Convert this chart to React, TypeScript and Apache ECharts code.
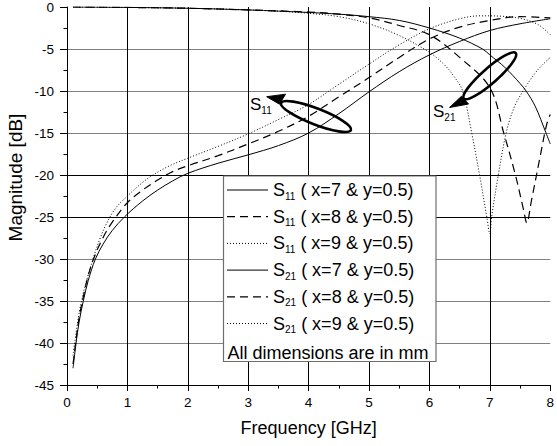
import React, { useEffect, useRef } from "react";
import * as echarts from "echarts";

type Pt = [number, number];

// Frequency [GHz], Magnitude [dB]
const s11x7: Pt[] = [
  [0.1, -43.0], [0.15, -40.0], [0.2, -37.5], [0.27, -35.0], [0.35, -32.6], [0.47, -30.0],
  [0.6, -28.2], [0.75, -26.6], [0.95, -25.0], [1.25, -23.1], [1.5, -21.8], [1.75, -20.7],
  [2.0, -19.8], [2.5, -18.6], [3.0, -17.6], [3.5, -16.5], [4.0, -15.0], [4.5, -12.7],
  [5.0, -10.1], [5.5, -7.7], [6.0, -5.7], [6.5, -4.1], [7.0, -2.8], [7.5, -2.0], [8.0, -1.4],
];
const s11x8: Pt[] = [
  [0.1, -42.5], [0.15, -39.6], [0.2, -37.0], [0.27, -34.5], [0.35, -32.0], [0.45, -29.8],
  [0.6, -27.4], [0.75, -25.6], [1.0, -23.3], [1.25, -21.8], [1.5, -20.6], [1.75, -19.6],
  [2.0, -18.9], [2.5, -17.7], [3.0, -16.3], [3.5, -14.8], [4.0, -13.0], [4.5, -10.7],
  [5.0, -8.4], [5.5, -6.0], [6.0, -3.8], [6.5, -2.4], [7.0, -1.6], [7.5, -1.15], [8.0, -1.3],
];
const s11x9: Pt[] = [
  [0.1, -41.5], [0.15, -38.8], [0.2, -36.5], [0.25, -34.7], [0.3, -33.2], [0.43, -30.0],
  [0.55, -27.5], [0.66, -25.7], [0.8, -24.0], [1.0, -22.5], [1.2, -21.2], [1.4, -20.1],
  [1.7, -18.9], [2.0, -18.0], [2.5, -16.6], [3.0, -15.1], [3.5, -13.4], [4.0, -11.6],
  [4.5, -9.2], [5.0, -6.8], [5.5, -4.5], [6.0, -2.6], [6.5, -1.4], [6.85, -1.05],
  [7.2, -1.1], [7.5, -1.35], [7.8, -2.1], [8.0, -3.3],
];
const s21x7: Pt[] = [
  [0.1, 0.0], [0.5, -0.02], [1.0, -0.05], [2.0, -0.15], [3.0, -0.35], [4.0, -0.65],
  [4.5, -0.85], [5.0, -1.15], [5.5, -1.6], [6.0, -2.5], [6.5, -3.7], [6.88, -5.0],
  [7.0, -5.7], [7.25, -7.2], [7.5, -9.1], [7.6, -10.0], [7.75, -11.8], [7.93, -15.0], [8.0, -16.3],
];
const s21x8: Pt[] = [
  [0.1, 0.0], [1.0, -0.05], [2.0, -0.15], [3.0, -0.35], [4.0, -0.6], [4.5, -0.85],
  [5.0, -1.3], [5.5, -2.2], [6.0, -3.3], [6.5, -6.0], [7.0, -9.6], [7.23, -15.0],
  [7.42, -19.9], [7.56, -24.2], [7.61, -25.7], [7.69, -23.0], [7.83, -17.9], [7.94, -14.0], [8.0, -12.8],
];
const s21x9: Pt[] = [
  [0.1, 0.0], [1.0, -0.05], [2.0, -0.15], [3.0, -0.35], [3.5, -0.5], [4.0, -0.75],
  [4.5, -1.15], [5.0, -2.0], [5.5, -3.4], [6.0, -5.4], [6.25, -6.9], [6.4, -8.2],
  [6.55, -10.0], [6.7, -15.0], [6.83, -20.0], [6.95, -25.0], [7.0, -27.0], [7.03, -25.0],
  [7.14, -20.0], [7.27, -15.0], [7.4, -12.0], [7.55, -10.0], [7.78, -7.6], [8.0, -6.0],
];

const seriesNames = [
  "S11 ( x=7 & y=0.5)", "S11 ( x=8 & y=0.5)", "S11 ( x=9 & y=0.5)",
  "S21 ( x=7 & y=0.5)", "S21 ( x=8 & y=0.5)", "S21 ( x=9 & y=0.5)",
];
const seriesSubs = ["11", "11", "11", "21", "21", "21"];
const seriesRest = [
  " ( x=7 & y=0.5)", " ( x=8 & y=0.5)", " ( x=9 & y=0.5)",
  " ( x=7 & y=0.5)", " ( x=8 & y=0.5)", " ( x=9 & y=0.5)",
];
const seriesData = [s11x7, s11x8, s11x9, s21x7, s21x8, s21x9];
const seriesDash: (number[] | null)[] = [null, [8, 5], [1, 2], null, [8, 5], [1, 2]];
const seriesWidth = [1, 1.2, 1, 1, 1.2, 1];

const noteText = "All dimensions are in mm";
const xTitle = "Frequency [GHz]";
const yTitle = "Magnitude [dB]";

const FONT = "'Liberation Sans', Arial, Helvetica, sans-serif";

export default function App() {
  const ref = useRef<HTMLDivElement>(null);

  useEffect(() => {
    if (!ref.current) return;
    const chart = echarts.init(ref.current, undefined, { renderer: "svg" });

    const gridLeft = 67;
    const gridTop = 5.9;
    const gridW = 491.8;
    const gridH = 379.1;

    const rowY0 = 190;
    const rowStep = 26.7;

    const richLegend = {
      m: { fontSize: 18, lineHeight: 22, fontFamily: FONT, fill: "#000" },
      b: { fontSize: 10, lineHeight: 8, verticalAlign: "bottom", fontFamily: FONT, fill: "#000" },
    };
    const richLabel = {
      m: { fontSize: 17, lineHeight: 22, fontFamily: FONT, fill: "#000" },
      b: { fontSize: 10, lineHeight: 5, verticalAlign: "bottom", fontFamily: FONT, fill: "#000" },
    };

    const legendEls: any[] = [
      {
        type: "rect",
        z: 100,
        shape: { x: 223.5, y: 176, width: 212.5, height: 185.5 },
        style: { fill: "#fff", stroke: "#6e6e6e", lineWidth: 1.2 },
      },
    ];
    seriesNames.forEach((_, i) => {
      const ry = rowY0 + i * rowStep;
      legendEls.push({
        type: "line",
        z: 101,
        shape: { x1: 227, y1: ry, x2: 268, y2: ry },
        style: {
          stroke: "#000",
          lineWidth: seriesWidth[i],
          lineDash: seriesDash[i] || undefined,
        },
      });
      legendEls.push({
        type: "text",
        z: 101,
        x: 273,
        y: ry,
        style: {
          text: `{m|S}{b|${seriesSubs[i]}}{m|${seriesRest[i]}}`,
          rich: richLegend,
          align: "left",
          verticalAlign: "middle",
          fill: "#000",
        },
      });
    });
    legendEls.push({
      type: "text",
      z: 101,
      x: 227.5,
      y: 352.7,
      style: {
        text: noteText,
        fontSize: 18,
        fontFamily: FONT,
        fill: "#000",
        align: "left",
        verticalAlign: "middle",
      },
    });

    const annotEls: any[] = [
      {
        type: "ellipse",
        z: 110,
        x: 316,
        y: 116.5,
        rotation: -0.37,
        shape: { cx: 0, cy: 0, rx: 37.5, ry: 8 },
        style: { fill: "none", stroke: "#000", lineWidth: 2.6 },
      },
      {
        type: "polygon",
        z: 110,
        shape: { points: [[266.7, 96.7], [285.5, 94.2], [279.5, 104.2]] },
        style: { fill: "#000", stroke: "#000", lineWidth: 1 },
      },
      {
        type: "text",
        z: 110,
        x: 250,
        y: 104.3,
        style: { text: "{m|S}{b|11}", rich: richLabel, align: "left", verticalAlign: "middle" },
      },
      {
        type: "ellipse",
        z: 110,
        x: 489.8,
        y: 75.8,
        rotation: 0.72,
        shape: { cx: 0, cy: 0, rx: 34.5, ry: 7.5 },
        style: { fill: "none", stroke: "#000", lineWidth: 2.6 },
      },
      {
        type: "polygon",
        z: 110,
        shape: { points: [[449.5, 107.5], [461.5, 96.3], [468.5, 104.0]] },
        style: { fill: "#000", stroke: "#000", lineWidth: 1 },
      },
      {
        type: "text",
        z: 110,
        x: 433,
        y: 111.7,
        style: { text: "{m|S}{b|21}", rich: richLabel, align: "left", verticalAlign: "middle" },
      },
      {
        type: "text",
        z: 110,
        x: 15,
        y: 177.5,
        rotation: Math.PI / 2,
        style: {
          text: yTitle,
          fontSize: 19,
          fontFamily: FONT,
          fill: "#000",
          align: "center",
          verticalAlign: "middle",
        },
      },
    ];

    const hGray = "#808080";
    const option: any = {
      animation: false,
      backgroundColor: "#fff",
      textStyle: { fontFamily: FONT },
      grid: { left: gridLeft, top: gridTop, width: gridW, height: gridH, containLabel: false },
      xAxis: {
        type: "value",
        min: 0,
        max: 8,
        interval: 1,
        name: xTitle,
        nameLocation: "middle",
        nameGap: 34,
        nameTextStyle: { fontSize: 18, color: "#000", fontFamily: FONT },
        axisLine: { show: true, onZero: false, lineStyle: { color: "#000", width: 1 } },
        axisTick: { show: true, inside: false, length: 6, lineStyle: { color: "#000" } },
        minorTick: { show: true, splitNumber: 2, length: 3.5, lineStyle: { color: "#000" } },
        axisLabel: { fontSize: 13.5, color: "#000", margin: 10, fontFamily: FONT },
        splitLine: {
          show: true,
          showMinLine: false,
          showMaxLine: false,
          lineStyle: { color: "#000", width: 1 },
        },
      },
      yAxis: {
        type: "value",
        min: -45,
        max: 0,
        interval: 5,
        axisLine: { show: true, onZero: false, lineStyle: { color: "#000", width: 1 } },
        axisTick: { show: true, inside: false, length: 7, lineStyle: { color: "#000" } },
        minorTick: { show: true, splitNumber: 2, length: 3.5, lineStyle: { color: "#000" } },
        axisLabel: { fontSize: 13.5, color: "#000", margin: 13, fontFamily: FONT },
        splitLine: {
          show: true,
          showMinLine: false,
          showMaxLine: false,
          lineStyle: {
            color: [hGray, hGray, hGray, "#000", "#000", hGray, hGray, hGray],
            width: 1,
          },
        },
      },
      series: seriesData.map((d, i) => ({
        name: seriesNames[i],
        type: "line",
        data: d,
        symbol: "none",
        showSymbol: false,
        smooth: 0.35,
        clip: true,
        z: 3,
        lineStyle: {
          color: "#000",
          width: seriesWidth[i],
          type: seriesDash[i] || "solid",
        },
      })),
      graphic: [...legendEls, ...annotEls],
    };

    chart.setOption(option);
    return () => {
      chart.dispose();
    };
  }, []);

  return (
    <div
      ref={ref}
      style={{ position: "fixed", left: 0, top: 0, width: 557, height: 446, background: "#fff" }}
    />
  );
}
